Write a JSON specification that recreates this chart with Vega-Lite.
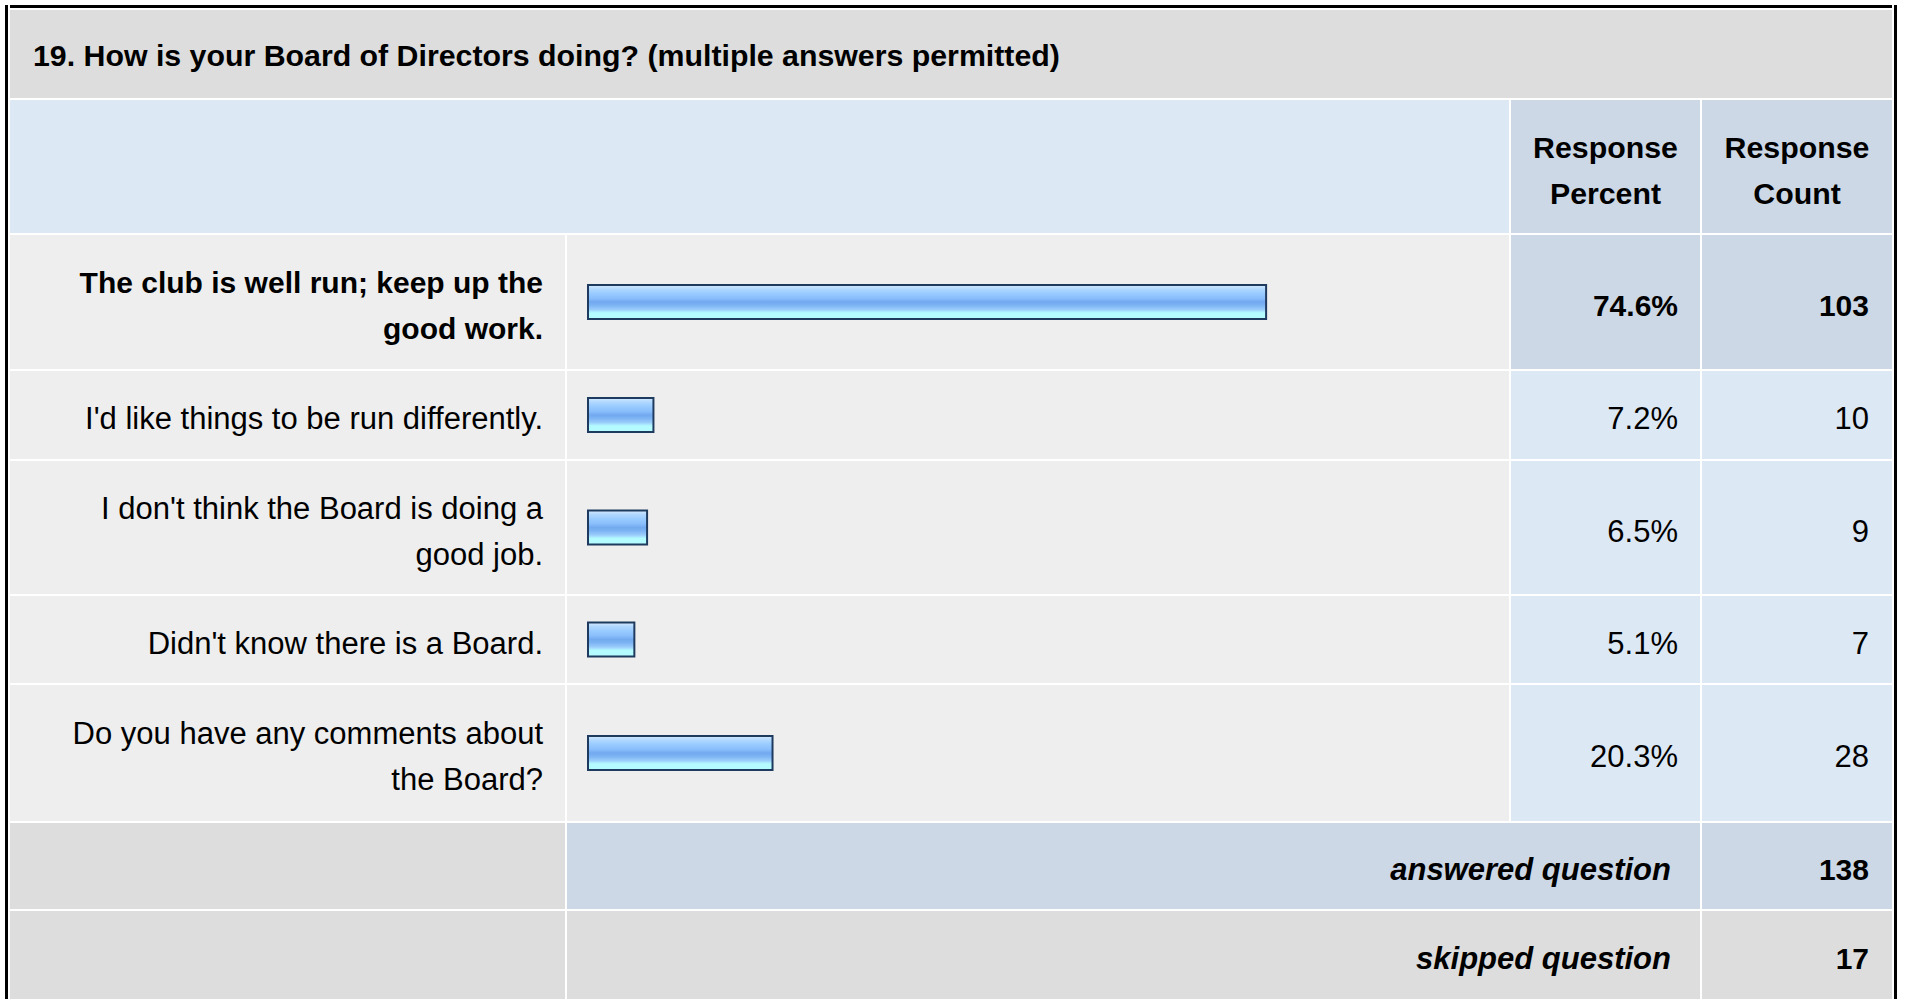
{
  "$schema": "https://vega.github.io/schema/vega-lite/v6.json",
  "background": "#ffffff",
  "padding": {"left": 5, "top": 5, "right": 0, "bottom": 0},
  "spacing": 2,
  "config": {
    "view": {"stroke": null},
    "font": "Liberation Sans",
    "text": {"font": "Liberation Sans", "fontSize": 31, "lineHeight": 46, "lineBreak": "\n", "baseline": "middle", "color": "#000000"}
  },
  "datasets": {
    "question": [{"question": "19. How is your Board of Directors doing? (multiple answers permitted)"}],
    "headers": [
      {"col": "percent", "header": "Response\nPercent"},
      {"col": "count", "header": "Response\nCount"}
    ],
    "answers": [
      {"order": 1, "answer": "The club is well run; keep up the\ngood work.", "percent": 0.746, "count": 103},
      {"order": 2, "answer": "I'd like things to be run differently.", "percent": 0.072, "count": 10},
      {"order": 3, "answer": "I don't think the Board is doing a\ngood job.", "percent": 0.065, "count": 9},
      {"order": 4, "answer": "Didn't know there is a Board.", "percent": 0.051, "count": 7},
      {"order": 5, "answer": "Do you have any comments about\nthe Board?", "percent": 0.203, "count": 28}
    ],
    "summary": [
      {"stat": "answered question", "count": 138},
      {"stat": "skipped question", "count": 17}
    ],
    "blank": [{}]
  },
  "hconcat": [
    {"width": 3, "height": 994, "view": {"fill": "#000000"}, "data": {"name": "blank"}, "mark": {"type": "rect", "color": "#000000"}, "encoding": {}},
    {
      "spacing": 2,
      "vconcat": [
        {"width": 1882, "height": 3, "view": {"fill": "#000000"}, "data": {"name": "blank"}, "mark": {"type": "rect", "color": "#000000"}, "encoding": {}},
        {"width": 1882, "height": 88, "view": {"fill": "#dddddd"}, "data": {"name": "question"},
         "mark": {"type": "text", "align": "left", "x": 0, "dx": 23, "dy": 3, "fontWeight": "bold", "fontSize": 30.3},
         "encoding": {"text": {"field": "question", "type": "nominal"}}},
        {"spacing": 2, "hconcat": [
          {"width": 1499, "height": 133, "view": {"fill": "#dde8f5"}, "data": {"name": "blank"}, "mark": {"type": "rect", "color": "#dde8f5"}, "encoding": {}},
          {"width": 189, "height": 133, "view": {"fill": "#ccd8e6"}, "data": {"name": "headers"}, "transform": [{"filter": "datum.col == 'percent'"}],
           "mark": {"type": "text", "align": "center", "dy": -18, "fontWeight": "bold", "fontSize": 30.3},
           "encoding": {"text": {"field": "header", "type": "nominal"}}},
          {"width": 190, "height": 133, "view": {"fill": "#ccd8e6"}, "data": {"name": "headers"}, "transform": [{"filter": "datum.col == 'count'"}],
           "mark": {"type": "text", "align": "center", "dy": -18, "fontWeight": "bold", "fontSize": 30.3},
           "encoding": {"text": {"field": "header", "type": "nominal"}}}
        ]},
        {"spacing": 2, "hconcat": [
          {"width": 555, "height": 134, "view": {"fill": "#eeeeee"}, "data": {"name": "answers"}, "transform": [{"filter": "datum.order == 1"}],
           "mark": {"type": "text", "align": "right", "x": "width", "dx": -22, "dy": -18, "fontWeight": "bold", "fontSize": 30},
           "encoding": {"text": {"field": "answer", "type": "nominal"}}},
          {"width": 942, "height": 134, "view": {"fill": "#eeeeee"}, "data": {"name": "answers"}, "transform": [{"filter": "datum.order == 1"}],
           "mark": {"type": "bar", "height": 34, "stroke": "#1f3a5f", "strokeWidth": 2,
             "fill": {"gradient": "linear", "x1": 0, "y1": 0, "x2": 0, "y2": 1, "stops": [
               {"offset": 0, "color": "#d6e9ff"}, {"offset": 0.12, "color": "#b0d8ff"}, {"offset": 0.25, "color": "#99cbff"},
               {"offset": 0.4, "color": "#88bdfb"}, {"offset": 0.5, "color": "#72a9ef"}, {"offset": 0.6, "color": "#7db4f3"},
               {"offset": 0.72, "color": "#9accfb"}, {"offset": 0.82, "color": "#b4fbff"}, {"offset": 1, "color": "#b4fbff"}]}},
           "encoding": {
             "x": {"field": "percent", "type": "quantitative", "scale": {"domain": [0, 1], "range": [21, 930]}, "axis": null},
             "y": {"field": "answer", "type": "nominal", "axis": null}}},
          {"width": 189, "height": 134, "view": {"fill": "#ccd8e6"}, "data": {"name": "answers"}, "transform": [{"filter": "datum.order == 1"}],
           "mark": {"type": "text", "align": "right", "x": "width", "dx": -22, "dy": 5, "fontWeight": "bold", "fontSize": 30},
           "encoding": {"text": {"field": "percent", "type": "quantitative", "format": ".1%"}}},
          {"width": 190, "height": 134, "view": {"fill": "#ccd8e6"}, "data": {"name": "answers"}, "transform": [{"filter": "datum.order == 1"}],
           "mark": {"type": "text", "align": "right", "x": "width", "dx": -23, "dy": 5, "fontWeight": "bold", "fontSize": 30},
           "encoding": {"text": {"field": "count", "type": "quantitative"}}}
        ]},
        {"spacing": 2, "hconcat": [
          {"width": 555, "height": 88, "view": {"fill": "#eeeeee"}, "data": {"name": "answers"}, "transform": [{"filter": "datum.order == 2"}],
           "mark": {"type": "text", "align": "right", "x": "width", "dx": -22, "dy": 5},
           "encoding": {"text": {"field": "answer", "type": "nominal"}}},
          {"width": 942, "height": 88, "view": {"fill": "#eeeeee"}, "data": {"name": "answers"}, "transform": [{"filter": "datum.order == 2"}],
           "mark": {"type": "bar", "height": 34, "stroke": "#1f3a5f", "strokeWidth": 2,
             "fill": {"gradient": "linear", "x1": 0, "y1": 0, "x2": 0, "y2": 1, "stops": [
               {"offset": 0, "color": "#d6e9ff"}, {"offset": 0.12, "color": "#b0d8ff"}, {"offset": 0.25, "color": "#99cbff"},
               {"offset": 0.4, "color": "#88bdfb"}, {"offset": 0.5, "color": "#72a9ef"}, {"offset": 0.6, "color": "#7db4f3"},
               {"offset": 0.72, "color": "#9accfb"}, {"offset": 0.82, "color": "#b4fbff"}, {"offset": 1, "color": "#b4fbff"}]}},
           "encoding": {
             "x": {"field": "percent", "type": "quantitative", "scale": {"domain": [0, 1], "range": [21, 930]}, "axis": null},
             "y": {"field": "answer", "type": "nominal", "axis": null}}},
          {"width": 189, "height": 88, "view": {"fill": "#dde8f5"}, "data": {"name": "answers"}, "transform": [{"filter": "datum.order == 2"}],
           "mark": {"type": "text", "align": "right", "x": "width", "dx": -22, "dy": 5},
           "encoding": {"text": {"field": "percent", "type": "quantitative", "format": ".1%"}}},
          {"width": 190, "height": 88, "view": {"fill": "#dde8f5"}, "data": {"name": "answers"}, "transform": [{"filter": "datum.order == 2"}],
           "mark": {"type": "text", "align": "right", "x": "width", "dx": -23, "dy": 5},
           "encoding": {"text": {"field": "count", "type": "quantitative"}}}
        ]},
        {"spacing": 2, "hconcat": [
          {"width": 555, "height": 133, "view": {"fill": "#eeeeee"}, "data": {"name": "answers"}, "transform": [{"filter": "datum.order == 3"}],
           "mark": {"type": "text", "align": "right", "x": "width", "dx": -22, "dy": -18},
           "encoding": {"text": {"field": "answer", "type": "nominal"}}},
          {"width": 942, "height": 133, "view": {"fill": "#eeeeee"}, "data": {"name": "answers"}, "transform": [{"filter": "datum.order == 3"}],
           "mark": {"type": "bar", "height": 34, "stroke": "#1f3a5f", "strokeWidth": 2,
             "fill": {"gradient": "linear", "x1": 0, "y1": 0, "x2": 0, "y2": 1, "stops": [
               {"offset": 0, "color": "#d6e9ff"}, {"offset": 0.12, "color": "#b0d8ff"}, {"offset": 0.25, "color": "#99cbff"},
               {"offset": 0.4, "color": "#88bdfb"}, {"offset": 0.5, "color": "#72a9ef"}, {"offset": 0.6, "color": "#7db4f3"},
               {"offset": 0.72, "color": "#9accfb"}, {"offset": 0.82, "color": "#b4fbff"}, {"offset": 1, "color": "#b4fbff"}]}},
           "encoding": {
             "x": {"field": "percent", "type": "quantitative", "scale": {"domain": [0, 1], "range": [21, 930]}, "axis": null},
             "y": {"field": "answer", "type": "nominal", "axis": null}}},
          {"width": 189, "height": 133, "view": {"fill": "#dde8f5"}, "data": {"name": "answers"}, "transform": [{"filter": "datum.order == 3"}],
           "mark": {"type": "text", "align": "right", "x": "width", "dx": -22, "dy": 5},
           "encoding": {"text": {"field": "percent", "type": "quantitative", "format": ".1%"}}},
          {"width": 190, "height": 133, "view": {"fill": "#dde8f5"}, "data": {"name": "answers"}, "transform": [{"filter": "datum.order == 3"}],
           "mark": {"type": "text", "align": "right", "x": "width", "dx": -23, "dy": 5},
           "encoding": {"text": {"field": "count", "type": "quantitative"}}}
        ]},
        {"spacing": 2, "hconcat": [
          {"width": 555, "height": 87, "view": {"fill": "#eeeeee"}, "data": {"name": "answers"}, "transform": [{"filter": "datum.order == 4"}],
           "mark": {"type": "text", "align": "right", "x": "width", "dx": -22, "dy": 5},
           "encoding": {"text": {"field": "answer", "type": "nominal"}}},
          {"width": 942, "height": 87, "view": {"fill": "#eeeeee"}, "data": {"name": "answers"}, "transform": [{"filter": "datum.order == 4"}],
           "mark": {"type": "bar", "height": 34, "stroke": "#1f3a5f", "strokeWidth": 2,
             "fill": {"gradient": "linear", "x1": 0, "y1": 0, "x2": 0, "y2": 1, "stops": [
               {"offset": 0, "color": "#d6e9ff"}, {"offset": 0.12, "color": "#b0d8ff"}, {"offset": 0.25, "color": "#99cbff"},
               {"offset": 0.4, "color": "#88bdfb"}, {"offset": 0.5, "color": "#72a9ef"}, {"offset": 0.6, "color": "#7db4f3"},
               {"offset": 0.72, "color": "#9accfb"}, {"offset": 0.82, "color": "#b4fbff"}, {"offset": 1, "color": "#b4fbff"}]}},
           "encoding": {
             "x": {"field": "percent", "type": "quantitative", "scale": {"domain": [0, 1], "range": [21, 930]}, "axis": null},
             "y": {"field": "answer", "type": "nominal", "axis": null}}},
          {"width": 189, "height": 87, "view": {"fill": "#dde8f5"}, "data": {"name": "answers"}, "transform": [{"filter": "datum.order == 4"}],
           "mark": {"type": "text", "align": "right", "x": "width", "dx": -22, "dy": 5},
           "encoding": {"text": {"field": "percent", "type": "quantitative", "format": ".1%"}}},
          {"width": 190, "height": 87, "view": {"fill": "#dde8f5"}, "data": {"name": "answers"}, "transform": [{"filter": "datum.order == 4"}],
           "mark": {"type": "text", "align": "right", "x": "width", "dx": -23, "dy": 5},
           "encoding": {"text": {"field": "count", "type": "quantitative"}}}
        ]},
        {"spacing": 2, "hconcat": [
          {"width": 555, "height": 136, "view": {"fill": "#eeeeee"}, "data": {"name": "answers"}, "transform": [{"filter": "datum.order == 5"}],
           "mark": {"type": "text", "align": "right", "x": "width", "dx": -22, "dy": -18},
           "encoding": {"text": {"field": "answer", "type": "nominal"}}},
          {"width": 942, "height": 136, "view": {"fill": "#eeeeee"}, "data": {"name": "answers"}, "transform": [{"filter": "datum.order == 5"}],
           "mark": {"type": "bar", "height": 34, "stroke": "#1f3a5f", "strokeWidth": 2,
             "fill": {"gradient": "linear", "x1": 0, "y1": 0, "x2": 0, "y2": 1, "stops": [
               {"offset": 0, "color": "#d6e9ff"}, {"offset": 0.12, "color": "#b0d8ff"}, {"offset": 0.25, "color": "#99cbff"},
               {"offset": 0.4, "color": "#88bdfb"}, {"offset": 0.5, "color": "#72a9ef"}, {"offset": 0.6, "color": "#7db4f3"},
               {"offset": 0.72, "color": "#9accfb"}, {"offset": 0.82, "color": "#b4fbff"}, {"offset": 1, "color": "#b4fbff"}]}},
           "encoding": {
             "x": {"field": "percent", "type": "quantitative", "scale": {"domain": [0, 1], "range": [21, 930]}, "axis": null},
             "y": {"field": "answer", "type": "nominal", "axis": null}}},
          {"width": 189, "height": 136, "view": {"fill": "#dde8f5"}, "data": {"name": "answers"}, "transform": [{"filter": "datum.order == 5"}],
           "mark": {"type": "text", "align": "right", "x": "width", "dx": -22, "dy": 5},
           "encoding": {"text": {"field": "percent", "type": "quantitative", "format": ".1%"}}},
          {"width": 190, "height": 136, "view": {"fill": "#dde8f5"}, "data": {"name": "answers"}, "transform": [{"filter": "datum.order == 5"}],
           "mark": {"type": "text", "align": "right", "x": "width", "dx": -23, "dy": 5},
           "encoding": {"text": {"field": "count", "type": "quantitative"}}}
        ]},
        {"spacing": 2, "hconcat": [
          {"width": 555, "height": 86, "view": {"fill": "#dddddd"}, "data": {"name": "blank"}, "mark": {"type": "rect", "color": "#dddddd"}, "encoding": {}},
          {"width": 1133, "height": 86, "view": {"fill": "#ccd8e6"}, "data": {"name": "summary"}, "transform": [{"filter": "datum.stat == 'answered question'"}],
           "mark": {"type": "text", "align": "right", "x": "width", "dx": -29, "dy": 5, "fontWeight": "bold", "fontStyle": "italic"},
           "encoding": {"text": {"field": "stat", "type": "nominal"}}},
          {"width": 190, "height": 86, "view": {"fill": "#ccd8e6"}, "data": {"name": "summary"}, "transform": [{"filter": "datum.stat == 'answered question'"}],
           "mark": {"type": "text", "align": "right", "x": "width", "dx": -23, "dy": 5, "fontWeight": "bold", "fontSize": 30},
           "encoding": {"text": {"field": "count", "type": "quantitative"}}}
        ]},
        {"spacing": 2, "hconcat": [
          {"width": 555, "height": 88, "view": {"fill": "#dddddd"}, "data": {"name": "blank"}, "mark": {"type": "rect", "color": "#dddddd"}, "encoding": {}},
          {"width": 1133, "height": 88, "view": {"fill": "#dddddd"}, "data": {"name": "summary"}, "transform": [{"filter": "datum.stat == 'skipped question'"}],
           "mark": {"type": "text", "align": "right", "x": "width", "dx": -29, "dy": 5, "fontWeight": "bold", "fontStyle": "italic"},
           "encoding": {"text": {"field": "stat", "type": "nominal"}}},
          {"width": 190, "height": 88, "view": {"fill": "#dddddd"}, "data": {"name": "summary"}, "transform": [{"filter": "datum.stat == 'skipped question'"}],
           "mark": {"type": "text", "align": "right", "x": "width", "dx": -23, "dy": 5, "fontWeight": "bold", "fontSize": 30},
           "encoding": {"text": {"field": "count", "type": "quantitative"}}}
        ]}
      ]
    },
    {"width": 3, "height": 994, "view": {"fill": "#000000"}, "data": {"name": "blank"}, "mark": {"type": "rect", "color": "#000000"}, "encoding": {}}
  ]
}
